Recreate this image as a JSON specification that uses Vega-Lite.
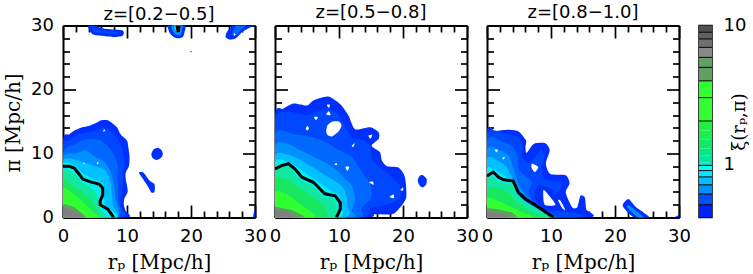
{"$schema":"https://vega.github.io/schema/vega-lite/v6.json","padding":{"left":3,"top":3.5,"right":0,"bottom":0},"background":"white","autosize":{"type":"pad"},"bounds":"flush","spacing":20,"resolve":{"scale":{"fill":"independent"}},
"config":{"view":{"stroke":null},"title":{"font":"DejaVu Sans","fontSize":18,"fontWeight":"normal","color":"#000"},"axis":{"domainColor":"#000","domainWidth":2,"tickColor":"#000","tickWidth":1.7,"grid":false,"labelFont":"DejaVu Sans","labelFontSize":18,"labelColor":"#000","labelOverlap":false,"labelBound":false,"labelFlush":false,"titleFont":"DejaVu Serif","titleFontSize":20,"titleFontWeight":"normal","titleColor":"#000","zindex":1}},
"datasets":{"shapes":[
{"panel":1,"band":"b1","poly":"a","rp":0,"pi":12},{"panel":1,"band":"b1","poly":"a","rp":1,"pi":13},{"panel":1,"band":"b1","poly":"a","rp":2,"pi":13.7},{"panel":1,"band":"b1","poly":"a","rp":3,"pi":14.1},{"panel":1,"band":"b1","poly":"a","rp":4,"pi":14.3},{"panel":1,"band":"b1","poly":"a","rp":5,"pi":14.7},{"panel":1,"band":"b1","poly":"a","rp":6,"pi":15.2},{"panel":1,"band":"b1","poly":"a","rp":7,"pi":15.2},{"panel":1,"band":"b1","poly":"a","rp":8,"pi":14.5},{"panel":1,"band":"b1","poly":"a","rp":8.5,"pi":14},{"panel":1,"band":"b1","poly":"a","rp":9,"pi":13},{"panel":1,"band":"b1","poly":"a","rp":10,"pi":12},{"panel":1,"band":"b1","poly":"a","rp":10.2,"pi":11},{"panel":1,"band":"b1","poly":"a","rp":10.4,"pi":9.5},{"panel":1,"band":"b1","poly":"a","rp":10.3,"pi":8},{"panel":1,"band":"b1","poly":"a","rp":9.8,"pi":7},{"panel":1,"band":"b1","poly":"a","rp":9.8,"pi":6},{"panel":1,"band":"b1","poly":"a","rp":10,"pi":5},{"panel":1,"band":"b1","poly":"a","rp":10.1,"pi":4},{"panel":1,"band":"b1","poly":"a","rp":9.6,"pi":3},{"panel":1,"band":"b1","poly":"a","rp":9.5,"pi":2},{"panel":1,"band":"b1","poly":"a","rp":9.8,"pi":1},{"panel":1,"band":"b1","poly":"a","rp":10,"pi":0},{"panel":1,"band":"b1","poly":"a","rp":0,"pi":0},
{"panel":1,"band":"b1","poly":"c","rp":13.8,"pi":9.9},{"panel":1,"band":"b1","poly":"c","rp":14.1,"pi":10.6},{"panel":1,"band":"b1","poly":"c","rp":14.8,"pi":10.9},{"panel":1,"band":"b1","poly":"c","rp":15.4,"pi":10.5},{"panel":1,"band":"b1","poly":"c","rp":15.6,"pi":9.9},{"panel":1,"band":"b1","poly":"c","rp":15.3,"pi":9.3},{"panel":1,"band":"b1","poly":"c","rp":14.6,"pi":9},{"panel":1,"band":"b1","poly":"c","rp":14,"pi":9.3},
{"panel":1,"band":"b1","poly":"d","rp":11.9,"pi":6.9},{"panel":1,"band":"b1","poly":"d","rp":12,"pi":7.1},{"panel":1,"band":"b1","poly":"d","rp":12.6,"pi":7},{"panel":1,"band":"b1","poly":"d","rp":13.5,"pi":5.8},{"panel":1,"band":"b1","poly":"d","rp":14.3,"pi":5.2},{"panel":1,"band":"b1","poly":"d","rp":14.3,"pi":4},{"panel":1,"band":"b1","poly":"d","rp":13.8,"pi":3.9},{"panel":1,"band":"b1","poly":"d","rp":13.3,"pi":4.8},{"panel":1,"band":"b1","poly":"d","rp":12.5,"pi":6},
{"panel":1,"band":"b1","poly":"e","rp":4,"pi":30.5},{"panel":1,"band":"b1","poly":"e","rp":4,"pi":29.5},{"panel":1,"band":"b1","poly":"e","rp":4.7,"pi":28.6},{"panel":1,"band":"b1","poly":"e","rp":6,"pi":28.4},{"panel":1,"band":"b1","poly":"e","rp":8,"pi":28.2},{"panel":1,"band":"b1","poly":"e","rp":9.3,"pi":28.4},{"panel":1,"band":"b1","poly":"e","rp":9.5,"pi":29},{"panel":1,"band":"b1","poly":"e","rp":9,"pi":29.3},{"panel":1,"band":"b1","poly":"e","rp":6.5,"pi":29.5},{"panel":1,"band":"b1","poly":"e","rp":5,"pi":30},{"panel":1,"band":"b1","poly":"e","rp":5,"pi":30.5},
{"panel":1,"band":"b1","poly":"f","rp":16.4,"pi":30.5},{"panel":1,"band":"b1","poly":"f","rp":16.6,"pi":29},{"panel":1,"band":"b1","poly":"f","rp":17.3,"pi":28.2},{"panel":1,"band":"b1","poly":"f","rp":18,"pi":28},{"panel":1,"band":"b1","poly":"f","rp":18.7,"pi":28.2},{"panel":1,"band":"b1","poly":"f","rp":19,"pi":29},{"panel":1,"band":"b1","poly":"f","rp":19.1,"pi":30.5},
{"panel":1,"band":"b1","poly":"g","rp":25.4,"pi":28.2},{"panel":1,"band":"b1","poly":"g","rp":26,"pi":27.8},{"panel":1,"band":"b1","poly":"g","rp":27,"pi":28},{"panel":1,"band":"b1","poly":"g","rp":28,"pi":29},{"panel":1,"band":"b1","poly":"g","rp":29.5,"pi":29.8},{"panel":1,"band":"b1","poly":"g","rp":31,"pi":30.2},{"panel":1,"band":"b1","poly":"g","rp":31,"pi":31},{"panel":1,"band":"b1","poly":"g","rp":27,"pi":31},{"panel":1,"band":"b1","poly":"g","rp":26.3,"pi":29.8},{"panel":1,"band":"b1","poly":"g","rp":25.6,"pi":29},
{"panel":1,"band":"b1","poly":"h","rp":19.9,"pi":25.8},{"panel":1,"band":"b1","poly":"h","rp":20,"pi":26.05},{"panel":1,"band":"b1","poly":"h","rp":20.15,"pi":25.85},
{"panel":1,"band":"b1","poly":"i","rp":29.7,"pi":0},{"panel":1,"band":"b1","poly":"i","rp":30,"pi":1.3},{"panel":1,"band":"b1","poly":"i","rp":30.5,"pi":1.3},{"panel":1,"band":"b1","poly":"i","rp":30.5,"pi":0},
{"panel":1,"band":"b2","poly":"a","rp":0,"pi":11},{"panel":1,"band":"b2","poly":"a","rp":1,"pi":12},{"panel":1,"band":"b2","poly":"a","rp":2.5,"pi":13},{"panel":1,"band":"b2","poly":"a","rp":5,"pi":13.5},{"panel":1,"band":"b2","poly":"a","rp":6.5,"pi":14},{"panel":1,"band":"b2","poly":"a","rp":8,"pi":13},{"panel":1,"band":"b2","poly":"a","rp":9,"pi":11.5},{"panel":1,"band":"b2","poly":"a","rp":9.6,"pi":9},{"panel":1,"band":"b2","poly":"a","rp":9.4,"pi":6.5},{"panel":1,"band":"b2","poly":"a","rp":9.2,"pi":4},{"panel":1,"band":"b2","poly":"a","rp":9,"pi":2},{"panel":1,"band":"b2","poly":"a","rp":9.3,"pi":0},{"panel":1,"band":"b2","poly":"a","rp":0,"pi":0},
{"panel":1,"band":"b2","poly":"e","rp":4.5,"pi":30},{"panel":1,"band":"b2","poly":"e","rp":4.8,"pi":29},{"panel":1,"band":"b2","poly":"e","rp":6,"pi":28.8},{"panel":1,"band":"b2","poly":"e","rp":8,"pi":28.7},{"panel":1,"band":"b2","poly":"e","rp":8.5,"pi":29},{"panel":1,"band":"b2","poly":"e","rp":6,"pi":29.2},{"panel":1,"band":"b2","poly":"e","rp":5,"pi":29.7},
{"panel":1,"band":"b3","poly":"a","rp":0,"pi":10},{"panel":1,"band":"b3","poly":"a","rp":2,"pi":11.5},{"panel":1,"band":"b3","poly":"a","rp":4,"pi":12.3},{"panel":1,"band":"b3","poly":"a","rp":6,"pi":12},{"panel":1,"band":"b3","poly":"a","rp":7.5,"pi":10.5},{"panel":1,"band":"b3","poly":"a","rp":8.5,"pi":8.5},{"panel":1,"band":"b3","poly":"a","rp":8.6,"pi":6},{"panel":1,"band":"b3","poly":"a","rp":8.6,"pi":3},{"panel":1,"band":"b3","poly":"a","rp":8.6,"pi":0},{"panel":1,"band":"b3","poly":"a","rp":0,"pi":0},
{"panel":1,"band":"b3","poly":"g","rp":26.5,"pi":28.5},{"panel":1,"band":"b3","poly":"g","rp":27.2,"pi":28.6},{"panel":1,"band":"b3","poly":"g","rp":27.8,"pi":29.3},{"panel":1,"band":"b3","poly":"g","rp":29,"pi":30.5},{"panel":1,"band":"b3","poly":"g","rp":27.5,"pi":30.5},{"panel":1,"band":"b3","poly":"g","rp":26.7,"pi":29.5},
{"panel":1,"band":"b4","poly":"a","rp":0,"pi":9.3},{"panel":1,"band":"b4","poly":"a","rp":2,"pi":10},{"panel":1,"band":"b4","poly":"a","rp":3.5,"pi":10.5},{"panel":1,"band":"b4","poly":"a","rp":5,"pi":9.5},{"panel":1,"band":"b4","poly":"a","rp":6.5,"pi":8.7},{"panel":1,"band":"b4","poly":"a","rp":7.5,"pi":7},{"panel":1,"band":"b4","poly":"a","rp":8,"pi":5},{"panel":1,"band":"b4","poly":"a","rp":8.2,"pi":3},{"panel":1,"band":"b4","poly":"a","rp":8.4,"pi":0},{"panel":1,"band":"b4","poly":"a","rp":0,"pi":0},
{"panel":1,"band":"b4","poly":"f","rp":16.9,"pi":30.5},{"panel":1,"band":"b4","poly":"f","rp":17.2,"pi":29},{"panel":1,"band":"b4","poly":"f","rp":17.8,"pi":28.5},{"panel":1,"band":"b4","poly":"f","rp":18.4,"pi":28.6},{"panel":1,"band":"b4","poly":"f","rp":18.7,"pi":30.5},
{"panel":1,"band":"b5","poly":"a","rp":0,"pi":8.7},{"panel":1,"band":"b5","poly":"a","rp":2,"pi":9},{"panel":1,"band":"b5","poly":"a","rp":3,"pi":8.7},{"panel":1,"band":"b5","poly":"a","rp":5,"pi":8},{"panel":1,"band":"b5","poly":"a","rp":6.5,"pi":7.5},{"panel":1,"band":"b5","poly":"a","rp":7.3,"pi":6},{"panel":1,"band":"b5","poly":"a","rp":7.6,"pi":4},{"panel":1,"band":"b5","poly":"a","rp":7.8,"pi":2},{"panel":1,"band":"b5","poly":"a","rp":8.2,"pi":0},{"panel":1,"band":"b5","poly":"a","rp":0,"pi":0},
{"panel":1,"band":"b6","poly":"a","rp":0,"pi":8.2},{"panel":1,"band":"b6","poly":"a","rp":2,"pi":8},{"panel":1,"band":"b6","poly":"a","rp":3,"pi":7},{"panel":1,"band":"b6","poly":"a","rp":5,"pi":5.9},{"panel":1,"band":"b6","poly":"a","rp":6.3,"pi":5.3},{"panel":1,"band":"b6","poly":"a","rp":6.4,"pi":3.5},{"panel":1,"band":"b6","poly":"a","rp":6.6,"pi":2},{"panel":1,"band":"b6","poly":"a","rp":8,"pi":0.8},{"panel":1,"band":"b6","poly":"a","rp":8.2,"pi":0},{"panel":1,"band":"b6","poly":"a","rp":0,"pi":0},
{"panel":1,"band":"b6","poly":"f","rp":17.3,"pi":30.5},{"panel":1,"band":"b6","poly":"f","rp":17.6,"pi":29.2},{"panel":1,"band":"b6","poly":"f","rp":18.2,"pi":29},{"panel":1,"band":"b6","poly":"f","rp":18.4,"pi":30.5},
{"panel":1,"band":"b7","poly":"a","rp":0,"pi":7.2},{"panel":1,"band":"b7","poly":"a","rp":1.5,"pi":7},{"panel":1,"band":"b7","poly":"a","rp":3,"pi":5.5},{"panel":1,"band":"b7","poly":"a","rp":4.5,"pi":4.6},{"panel":1,"band":"b7","poly":"a","rp":5.3,"pi":3.5},{"panel":1,"band":"b7","poly":"a","rp":5.8,"pi":1.5},{"panel":1,"band":"b7","poly":"a","rp":6.5,"pi":0},{"panel":1,"band":"b7","poly":"a","rp":0,"pi":0},
{"panel":1,"band":"b8","poly":"a","rp":0,"pi":6},{"panel":1,"band":"b8","poly":"a","rp":1.5,"pi":5},{"panel":1,"band":"b8","poly":"a","rp":3,"pi":4},{"panel":1,"band":"b8","poly":"a","rp":4.5,"pi":2.5},{"panel":1,"band":"b8","poly":"a","rp":5.5,"pi":0},{"panel":1,"band":"b8","poly":"a","rp":0,"pi":0},
{"panel":1,"band":"b9","poly":"a","rp":0,"pi":4.5},{"panel":1,"band":"b9","poly":"a","rp":1.5,"pi":3.8},{"panel":1,"band":"b9","poly":"a","rp":3,"pi":2.5},{"panel":1,"band":"b9","poly":"a","rp":4.5,"pi":1},{"panel":1,"band":"b9","poly":"a","rp":5.5,"pi":0},{"panel":1,"band":"b9","poly":"a","rp":0,"pi":0},
{"panel":1,"band":"b10","poly":"a","rp":0,"pi":2},{"panel":1,"band":"b10","poly":"a","rp":1.5,"pi":1.7},{"panel":1,"band":"b10","poly":"a","rp":2.5,"pi":1},{"panel":1,"band":"b10","poly":"a","rp":3.5,"pi":0},{"panel":1,"band":"b10","poly":"a","rp":0,"pi":0},
{"panel":1,"band":"b11","poly":"a","rp":0,"pi":1.5},{"panel":1,"band":"b11","poly":"a","rp":1.5,"pi":1.1},{"panel":1,"band":"b11","poly":"a","rp":2.5,"pi":0.5},{"panel":1,"band":"b11","poly":"a","rp":3,"pi":0},{"panel":1,"band":"b11","poly":"a","rp":0,"pi":0},
{"panel":1,"band":"hole","poly":"t1","rp":6.3,"pi":13.4},{"panel":1,"band":"hole","poly":"t1","rp":6.6,"pi":13.6},{"panel":1,"band":"hole","poly":"t1","rp":6.4,"pi":13.8},
{"panel":1,"band":"hole","poly":"t2","rp":5.3,"pi":8.3},{"panel":1,"band":"hole","poly":"t2","rp":5.6,"pi":8.5},{"panel":1,"band":"hole","poly":"t2","rp":5.4,"pi":8.7},
{"panel":1,"band":"hole","poly":"t3","rp":3.2,"pi":8.3},{"panel":1,"band":"hole","poly":"t3","rp":3.4,"pi":8.5},{"panel":1,"band":"hole","poly":"t3","rp":3.2,"pi":8.6},
{"panel":1,"band":"hole","poly":"t4","rp":26.7,"pi":28.4},{"panel":1,"band":"hole","poly":"t4","rp":27,"pi":28.6},{"panel":1,"band":"hole","poly":"t4","rp":26.7,"pi":28.8},
{"panel":2,"band":"b1","poly":"a","rp":0,"pi":15.9},{"panel":2,"band":"b1","poly":"a","rp":1.3,"pi":17},{"panel":2,"band":"b1","poly":"a","rp":2.9,"pi":17.8},{"panel":2,"band":"b1","poly":"a","rp":5,"pi":17.5},{"panel":2,"band":"b1","poly":"a","rp":6,"pi":18.3},{"panel":2,"band":"b1","poly":"a","rp":8.3,"pi":18.9},{"panel":2,"band":"b1","poly":"a","rp":10.2,"pi":17.7},{"panel":2,"band":"b1","poly":"a","rp":11.5,"pi":15.9},{"panel":2,"band":"b1","poly":"a","rp":12.5,"pi":13.8},{"panel":2,"band":"b1","poly":"a","rp":14.9,"pi":14.1},{"panel":2,"band":"b1","poly":"a","rp":16.2,"pi":13.3},{"panel":2,"band":"b1","poly":"a","rp":16.2,"pi":12.3},{"panel":2,"band":"b1","poly":"a","rp":15.1,"pi":11.2},{"panel":2,"band":"b1","poly":"a","rp":16.4,"pi":10.2},{"panel":2,"band":"b1","poly":"a","rp":16.7,"pi":8.9},{"panel":2,"band":"b1","poly":"a","rp":17.5,"pi":8},{"panel":2,"band":"b1","poly":"a","rp":19.3,"pi":7.8},{"panel":2,"band":"b1","poly":"a","rp":20.3,"pi":6.3},{"panel":2,"band":"b1","poly":"a","rp":20.5,"pi":3.1},{"panel":2,"band":"b1","poly":"a","rp":19.3,"pi":1.3},{"panel":2,"band":"b1","poly":"a","rp":18.3,"pi":0.5},{"panel":2,"band":"b1","poly":"a","rp":15.6,"pi":0.5},{"panel":2,"band":"b1","poly":"a","rp":14.3,"pi":0},{"panel":2,"band":"b1","poly":"a","rp":0,"pi":0},
{"panel":2,"band":"b1","poly":"c","rp":22.3,"pi":5.8},{"panel":2,"band":"b1","poly":"c","rp":22.6,"pi":6.5},{"panel":2,"band":"b1","poly":"c","rp":23.1,"pi":6.6},{"panel":2,"band":"b1","poly":"c","rp":23.7,"pi":6},{"panel":2,"band":"b1","poly":"c","rp":23.6,"pi":5.1},{"panel":2,"band":"b1","poly":"c","rp":23.1,"pi":4.7},{"panel":2,"band":"b1","poly":"c","rp":22.6,"pi":5},
{"panel":2,"band":"b2","poly":"a","rp":0,"pi":15},{"panel":2,"band":"b2","poly":"a","rp":2,"pi":16.5},{"panel":2,"band":"b2","poly":"a","rp":5,"pi":16},{"panel":2,"band":"b2","poly":"a","rp":8,"pi":17},{"panel":2,"band":"b2","poly":"a","rp":10,"pi":16},{"panel":2,"band":"b2","poly":"a","rp":11,"pi":14},{"panel":2,"band":"b2","poly":"a","rp":12,"pi":12.5},{"panel":2,"band":"b2","poly":"a","rp":14,"pi":12},{"panel":2,"band":"b2","poly":"a","rp":15,"pi":11},{"panel":2,"band":"b2","poly":"a","rp":15,"pi":10},{"panel":2,"band":"b2","poly":"a","rp":15.5,"pi":8.7},{"panel":2,"band":"b2","poly":"a","rp":18,"pi":6.5},{"panel":2,"band":"b2","poly":"a","rp":19.5,"pi":5},{"panel":2,"band":"b2","poly":"a","rp":19.5,"pi":3},{"panel":2,"band":"b2","poly":"a","rp":17.5,"pi":2},{"panel":2,"band":"b2","poly":"a","rp":15,"pi":1.5},{"panel":2,"band":"b2","poly":"a","rp":13.5,"pi":0},{"panel":2,"band":"b2","poly":"a","rp":0,"pi":0},
{"panel":2,"band":"b3","poly":"a","rp":0,"pi":13},{"panel":2,"band":"b3","poly":"a","rp":3,"pi":13},{"panel":2,"band":"b3","poly":"a","rp":6,"pi":12.5},{"panel":2,"band":"b3","poly":"a","rp":8.5,"pi":11.5},{"panel":2,"band":"b3","poly":"a","rp":10,"pi":10.5},{"panel":2,"band":"b3","poly":"a","rp":12,"pi":9.5},{"panel":2,"band":"b3","poly":"a","rp":13,"pi":8},{"panel":2,"band":"b3","poly":"a","rp":14,"pi":6.5},{"panel":2,"band":"b3","poly":"a","rp":15,"pi":5},{"panel":2,"band":"b3","poly":"a","rp":15,"pi":3},{"panel":2,"band":"b3","poly":"a","rp":13.5,"pi":1.5},{"panel":2,"band":"b3","poly":"a","rp":13,"pi":0},{"panel":2,"band":"b3","poly":"a","rp":0,"pi":0},
{"panel":2,"band":"b4","poly":"a","rp":0,"pi":11},{"panel":2,"band":"b4","poly":"a","rp":2,"pi":11.5},{"panel":2,"band":"b4","poly":"a","rp":4,"pi":10.5},{"panel":2,"band":"b4","poly":"a","rp":6,"pi":9.5},{"panel":2,"band":"b4","poly":"a","rp":8,"pi":8.5},{"panel":2,"band":"b4","poly":"a","rp":9.5,"pi":7.5},{"panel":2,"band":"b4","poly":"a","rp":11,"pi":6},{"panel":2,"band":"b4","poly":"a","rp":12,"pi":5},{"panel":2,"band":"b4","poly":"a","rp":12.5,"pi":3},{"panel":2,"band":"b4","poly":"a","rp":12,"pi":1},{"panel":2,"band":"b4","poly":"a","rp":12,"pi":0},{"panel":2,"band":"b4","poly":"a","rp":0,"pi":0},
{"panel":2,"band":"b5","poly":"a","rp":0,"pi":9.5},{"panel":2,"band":"b5","poly":"a","rp":2,"pi":9.8},{"panel":2,"band":"b5","poly":"a","rp":4,"pi":9},{"panel":2,"band":"b5","poly":"a","rp":6,"pi":7.8},{"panel":2,"band":"b5","poly":"a","rp":8,"pi":6.5},{"panel":2,"band":"b5","poly":"a","rp":10,"pi":5.3},{"panel":2,"band":"b5","poly":"a","rp":11,"pi":4},{"panel":2,"band":"b5","poly":"a","rp":11.3,"pi":2},{"panel":2,"band":"b5","poly":"a","rp":11,"pi":0},{"panel":2,"band":"b5","poly":"a","rp":0,"pi":0},
{"panel":2,"band":"b6","poly":"a","rp":0,"pi":8.6},{"panel":2,"band":"b6","poly":"a","rp":2,"pi":8.7},{"panel":2,"band":"b6","poly":"a","rp":4,"pi":7.5},{"panel":2,"band":"b6","poly":"a","rp":6,"pi":6},{"panel":2,"band":"b6","poly":"a","rp":7.5,"pi":5},{"panel":2,"band":"b6","poly":"a","rp":9,"pi":4},{"panel":2,"band":"b6","poly":"a","rp":10,"pi":3.5},{"panel":2,"band":"b6","poly":"a","rp":10.3,"pi":2},{"panel":2,"band":"b6","poly":"a","rp":10,"pi":0},{"panel":2,"band":"b6","poly":"a","rp":0,"pi":0},
{"panel":2,"band":"b7","poly":"a","rp":0,"pi":7.2},{"panel":2,"band":"b7","poly":"a","rp":2,"pi":7.9},{"panel":2,"band":"b7","poly":"a","rp":3,"pi":7},{"panel":2,"band":"b7","poly":"a","rp":4,"pi":5.8},{"panel":2,"band":"b7","poly":"a","rp":6,"pi":4.9},{"panel":2,"band":"b7","poly":"a","rp":7.5,"pi":3.3},{"panel":2,"band":"b7","poly":"a","rp":9,"pi":3},{"panel":2,"band":"b7","poly":"a","rp":9.6,"pi":2},{"panel":2,"band":"b7","poly":"a","rp":9.6,"pi":1},{"panel":2,"band":"b7","poly":"a","rp":9.2,"pi":0},{"panel":2,"band":"b7","poly":"a","rp":0,"pi":0},
{"panel":2,"band":"b8","poly":"a","rp":0,"pi":6},{"panel":2,"band":"b8","poly":"a","rp":2,"pi":5.8},{"panel":2,"band":"b8","poly":"a","rp":4,"pi":4.5},{"panel":2,"band":"b8","poly":"a","rp":6,"pi":3},{"panel":2,"band":"b8","poly":"a","rp":7.5,"pi":2},{"panel":2,"band":"b8","poly":"a","rp":8,"pi":0},{"panel":2,"band":"b8","poly":"a","rp":0,"pi":0},
{"panel":2,"band":"b9","poly":"a","rp":0,"pi":4},{"panel":2,"band":"b9","poly":"a","rp":2,"pi":3.5},{"panel":2,"band":"b9","poly":"a","rp":4,"pi":2},{"panel":2,"band":"b9","poly":"a","rp":5.5,"pi":1},{"panel":2,"band":"b9","poly":"a","rp":6,"pi":0},{"panel":2,"band":"b9","poly":"a","rp":0,"pi":0},
{"panel":2,"band":"b10","poly":"a","rp":0,"pi":1.6},{"panel":2,"band":"b10","poly":"a","rp":1.5,"pi":1.4},{"panel":2,"band":"b10","poly":"a","rp":3,"pi":1},{"panel":2,"band":"b10","poly":"a","rp":4.5,"pi":0},{"panel":2,"band":"b10","poly":"a","rp":0,"pi":0},
{"panel":2,"band":"b11","poly":"a","rp":0,"pi":1.1},{"panel":2,"band":"b11","poly":"a","rp":1.5,"pi":1},{"panel":2,"band":"b11","poly":"a","rp":2.5,"pi":0.6},{"panel":2,"band":"b11","poly":"a","rp":3,"pi":0},{"panel":2,"band":"b11","poly":"a","rp":0,"pi":0},
{"panel":2,"band":"hole","poly":"h","rp":8,"pi":13.4},{"panel":2,"band":"hole","poly":"h","rp":8.2,"pi":14.4},{"panel":2,"band":"hole","poly":"h","rp":9,"pi":15},{"panel":2,"band":"hole","poly":"h","rp":10,"pi":15},{"panel":2,"band":"hole","poly":"h","rp":10.4,"pi":14.4},{"panel":2,"band":"hole","poly":"h","rp":10,"pi":13.5},{"panel":2,"band":"hole","poly":"h","rp":9,"pi":12.7},{"panel":2,"band":"hole","poly":"h","rp":8.3,"pi":12.8},
{"panel":2,"band":"hole","poly":"t1","rp":4.8,"pi":13.9},{"panel":2,"band":"hole","poly":"t1","rp":5.1,"pi":14.3},{"panel":2,"band":"hole","poly":"t1","rp":5.3,"pi":13.9},{"panel":2,"band":"hole","poly":"t1","rp":5,"pi":13.6},
{"panel":2,"band":"hole","poly":"t2","rp":6.1,"pi":15.7},{"panel":2,"band":"hole","poly":"t2","rp":6.7,"pi":15.7},{"panel":2,"band":"hole","poly":"t2","rp":6.4,"pi":15.2},
{"panel":2,"band":"hole","poly":"t3","rp":8,"pi":16.1},{"panel":2,"band":"hole","poly":"t3","rp":8.7,"pi":16},{"panel":2,"band":"hole","poly":"t3","rp":8.4,"pi":16.6},
{"panel":2,"band":"hole","poly":"t4","rp":8.1,"pi":17.6},{"panel":2,"band":"hole","poly":"t4","rp":8.6,"pi":17.6},{"panel":2,"band":"hole","poly":"t4","rp":8.4,"pi":17.1},
{"panel":2,"band":"hole","poly":"t5","rp":14.6,"pi":12.8},{"panel":2,"band":"hole","poly":"t5","rp":15.2,"pi":12.9},{"panel":2,"band":"hole","poly":"t5","rp":14.9,"pi":12.3},
{"panel":2,"band":"hole","poly":"t6","rp":12,"pi":11.2},{"panel":2,"band":"hole","poly":"t6","rp":12.5,"pi":11.6},{"panel":2,"band":"hole","poly":"t6","rp":12.2,"pi":11},
{"panel":2,"band":"hole","poly":"t7","rp":9.3,"pi":8.3},{"panel":2,"band":"hole","poly":"t7","rp":9.6,"pi":8.5},{"panel":2,"band":"hole","poly":"t7","rp":9.7,"pi":8.2},
{"panel":2,"band":"hole","poly":"t8","rp":11,"pi":7.9},{"panel":2,"band":"hole","poly":"t8","rp":11.6,"pi":7.9},{"panel":2,"band":"hole","poly":"t8","rp":11.3,"pi":7.3},
{"panel":2,"band":"hole","poly":"t9","rp":14.7,"pi":5.5},{"panel":2,"band":"hole","poly":"t9","rp":15.3,"pi":5.6},{"panel":2,"band":"hole","poly":"t9","rp":15.4,"pi":5.1},
{"panel":2,"band":"hole","poly":"t10","rp":17.9,"pi":3.2},{"panel":2,"band":"hole","poly":"t10","rp":18.5,"pi":3.6},{"panel":2,"band":"hole","poly":"t10","rp":18.6,"pi":3},
{"panel":2,"band":"hole","poly":"t11","rp":19.6,"pi":4.3},{"panel":2,"band":"hole","poly":"t11","rp":20,"pi":4.7},{"panel":2,"band":"hole","poly":"t11","rp":20,"pi":4.2},
{"panel":3,"band":"b1","poly":"a","rp":0,"pi":13.5},{"panel":3,"band":"b1","poly":"a","rp":1.3,"pi":13.5},{"panel":3,"band":"b1","poly":"a","rp":3.4,"pi":13.7},{"panel":3,"band":"b1","poly":"a","rp":5,"pi":13.4},{"panel":3,"band":"b1","poly":"a","rp":6.1,"pi":12},{"panel":3,"band":"b1","poly":"a","rp":6,"pi":11},{"panel":3,"band":"b1","poly":"a","rp":6.2,"pi":10.1},{"panel":3,"band":"b1","poly":"a","rp":7.3,"pi":11.5},{"panel":3,"band":"b1","poly":"a","rp":9.1,"pi":11.6},{"panel":3,"band":"b1","poly":"a","rp":9.8,"pi":10.5},{"panel":3,"band":"b1","poly":"a","rp":9.2,"pi":8.4},{"panel":3,"band":"b1","poly":"a","rp":9.9,"pi":6.8},{"panel":3,"band":"b1","poly":"a","rp":12.3,"pi":6.6},{"panel":3,"band":"b1","poly":"a","rp":12.9,"pi":5.3},{"panel":3,"band":"b1","poly":"a","rp":12.3,"pi":3.9},{"panel":3,"band":"b1","poly":"a","rp":13.3,"pi":1.6},{"panel":3,"band":"b1","poly":"a","rp":14.1,"pi":1.6},{"panel":3,"band":"b1","poly":"a","rp":14.6,"pi":3.4},{"panel":3,"band":"b1","poly":"a","rp":15.3,"pi":3.1},{"panel":3,"band":"b1","poly":"a","rp":15.5,"pi":1.3},{"panel":3,"band":"b1","poly":"a","rp":16,"pi":0},{"panel":3,"band":"b1","poly":"a","rp":0,"pi":0},
{"panel":3,"band":"b1","poly":"c","rp":21.2,"pi":1.8},{"panel":3,"band":"b1","poly":"c","rp":22.1,"pi":2.9},{"panel":3,"band":"b1","poly":"c","rp":23.3,"pi":1.6},{"panel":3,"band":"b1","poly":"c","rp":25.4,"pi":0},{"panel":3,"band":"b1","poly":"c","rp":23,"pi":0},
{"panel":3,"band":"b1","poly":"d","rp":29.3,"pi":0},{"panel":3,"band":"b1","poly":"d","rp":30,"pi":0.4},{"panel":3,"band":"b1","poly":"d","rp":30.5,"pi":0.4},{"panel":3,"band":"b1","poly":"d","rp":30.5,"pi":0},
{"panel":3,"band":"b2","poly":"a","rp":0,"pi":13},{"panel":3,"band":"b2","poly":"a","rp":3,"pi":13},{"panel":3,"band":"b2","poly":"a","rp":4.8,"pi":12.5},{"panel":3,"band":"b2","poly":"a","rp":5.5,"pi":11},{"panel":3,"band":"b2","poly":"a","rp":5.5,"pi":9.5},{"panel":3,"band":"b2","poly":"a","rp":6.5,"pi":8.5},{"panel":3,"band":"b2","poly":"a","rp":7.5,"pi":9.5},{"panel":3,"band":"b2","poly":"a","rp":8.5,"pi":10.5},{"panel":3,"band":"b2","poly":"a","rp":9,"pi":9.5},{"panel":3,"band":"b2","poly":"a","rp":8.5,"pi":8},{"panel":3,"band":"b2","poly":"a","rp":9,"pi":6},{"panel":3,"band":"b2","poly":"a","rp":11.5,"pi":5.5},{"panel":3,"band":"b2","poly":"a","rp":11.5,"pi":4.5},{"panel":3,"band":"b2","poly":"a","rp":10.5,"pi":3.5},{"panel":3,"band":"b2","poly":"a","rp":10,"pi":4.5},{"panel":3,"band":"b2","poly":"a","rp":8,"pi":5},{"panel":3,"band":"b2","poly":"a","rp":7.5,"pi":3},{"panel":3,"band":"b2","poly":"a","rp":9,"pi":1.3},{"panel":3,"band":"b2","poly":"a","rp":11,"pi":1},{"panel":3,"band":"b2","poly":"a","rp":14,"pi":0.7},{"panel":3,"band":"b2","poly":"a","rp":14.3,"pi":0},{"panel":3,"band":"b2","poly":"a","rp":0,"pi":0},
{"panel":3,"band":"b4","poly":"c","rp":21.9,"pi":1.6},{"panel":3,"band":"b4","poly":"c","rp":22.3,"pi":1.8},{"panel":3,"band":"b4","poly":"c","rp":24.5,"pi":0},{"panel":3,"band":"b4","poly":"c","rp":23.6,"pi":0},
{"panel":3,"band":"b3","poly":"a","rp":0,"pi":12},{"panel":3,"band":"b3","poly":"a","rp":2.5,"pi":11.8},{"panel":3,"band":"b3","poly":"a","rp":4,"pi":11},{"panel":3,"band":"b3","poly":"a","rp":4.8,"pi":9.5},{"panel":3,"band":"b3","poly":"a","rp":5,"pi":7.5},{"panel":3,"band":"b3","poly":"a","rp":6,"pi":6.5},{"panel":3,"band":"b3","poly":"a","rp":7,"pi":5.5},{"panel":3,"band":"b3","poly":"a","rp":6.5,"pi":4},{"panel":3,"band":"b3","poly":"a","rp":7.5,"pi":2},{"panel":3,"band":"b3","poly":"a","rp":9,"pi":1},{"panel":3,"band":"b3","poly":"a","rp":9.7,"pi":0},{"panel":3,"band":"b3","poly":"a","rp":0,"pi":0},
{"panel":3,"band":"b4","poly":"a","rp":0,"pi":10.5},{"panel":3,"band":"b4","poly":"a","rp":2,"pi":10.5},{"panel":3,"band":"b4","poly":"a","rp":3.5,"pi":9.5},{"panel":3,"band":"b4","poly":"a","rp":4,"pi":8},{"panel":3,"band":"b4","poly":"a","rp":4.5,"pi":6.5},{"panel":3,"band":"b4","poly":"a","rp":5,"pi":5},{"panel":3,"band":"b4","poly":"a","rp":6,"pi":3.5},{"panel":3,"band":"b4","poly":"a","rp":7,"pi":2.2},{"panel":3,"band":"b4","poly":"a","rp":8.5,"pi":1},{"panel":3,"band":"b4","poly":"a","rp":10,"pi":0},{"panel":3,"band":"b4","poly":"a","rp":0,"pi":0},
{"panel":3,"band":"b5","poly":"a","rp":0,"pi":9},{"panel":3,"band":"b5","poly":"a","rp":1.5,"pi":9},{"panel":3,"band":"b5","poly":"a","rp":3,"pi":8},{"panel":3,"band":"b5","poly":"a","rp":3.5,"pi":7},{"panel":3,"band":"b5","poly":"a","rp":4,"pi":6},{"panel":3,"band":"b5","poly":"a","rp":4.5,"pi":4.5},{"panel":3,"band":"b5","poly":"a","rp":5.5,"pi":3},{"panel":3,"band":"b5","poly":"a","rp":7,"pi":1.8},{"panel":3,"band":"b5","poly":"a","rp":9,"pi":0.8},{"panel":3,"band":"b5","poly":"a","rp":10,"pi":0},{"panel":3,"band":"b5","poly":"a","rp":0,"pi":0},
{"panel":3,"band":"b6","poly":"a","rp":0,"pi":7.5},{"panel":3,"band":"b6","poly":"a","rp":1,"pi":7.5},{"panel":3,"band":"b6","poly":"a","rp":2,"pi":7},{"panel":3,"band":"b6","poly":"a","rp":3.5,"pi":6},{"panel":3,"band":"b6","poly":"a","rp":4.2,"pi":4.8},{"panel":3,"band":"b6","poly":"a","rp":5,"pi":3.3},{"panel":3,"band":"b6","poly":"a","rp":6,"pi":2.4},{"panel":3,"band":"b6","poly":"a","rp":8,"pi":1.3},{"panel":3,"band":"b6","poly":"a","rp":10,"pi":0.3},{"panel":3,"band":"b6","poly":"a","rp":10.3,"pi":0},{"panel":3,"band":"b6","poly":"a","rp":0,"pi":0},
{"panel":3,"band":"b7","poly":"a","rp":0,"pi":6},{"panel":3,"band":"b7","poly":"a","rp":1,"pi":6.3},{"panel":3,"band":"b7","poly":"a","rp":2,"pi":5.5},{"panel":3,"band":"b7","poly":"a","rp":4,"pi":5.2},{"panel":3,"band":"b7","poly":"a","rp":4.6,"pi":3.7},{"panel":3,"band":"b7","poly":"a","rp":5.7,"pi":2.6},{"panel":3,"band":"b7","poly":"a","rp":7,"pi":1.8},{"panel":3,"band":"b7","poly":"a","rp":8.7,"pi":0.8},{"panel":3,"band":"b7","poly":"a","rp":10,"pi":0},{"panel":3,"band":"b7","poly":"a","rp":0,"pi":0},
{"panel":3,"band":"b8","poly":"a","rp":0,"pi":4.5},{"panel":3,"band":"b8","poly":"a","rp":2,"pi":4.5},{"panel":3,"band":"b8","poly":"a","rp":3.5,"pi":3.8},{"panel":3,"band":"b8","poly":"a","rp":4.5,"pi":2.5},{"panel":3,"band":"b8","poly":"a","rp":6,"pi":1.5},{"panel":3,"band":"b8","poly":"a","rp":8,"pi":0.5},{"panel":3,"band":"b8","poly":"a","rp":9,"pi":0},{"panel":3,"band":"b8","poly":"a","rp":0,"pi":0},
{"panel":3,"band":"b9","poly":"a","rp":0,"pi":3},{"panel":3,"band":"b9","poly":"a","rp":2,"pi":2.5},{"panel":3,"band":"b9","poly":"a","rp":4,"pi":1.5},{"panel":3,"band":"b9","poly":"a","rp":6,"pi":0.6},{"panel":3,"band":"b9","poly":"a","rp":7,"pi":0},{"panel":3,"band":"b9","poly":"a","rp":0,"pi":0},
{"panel":3,"band":"b10","poly":"a","rp":0,"pi":1.4},{"panel":3,"band":"b10","poly":"a","rp":2,"pi":1.2},{"panel":3,"band":"b10","poly":"a","rp":4,"pi":0.7},{"panel":3,"band":"b10","poly":"a","rp":4.5,"pi":0},{"panel":3,"band":"b10","poly":"a","rp":0,"pi":0},
{"panel":3,"band":"b11","poly":"a","rp":0,"pi":0.9},{"panel":3,"band":"b11","poly":"a","rp":1.5,"pi":0.7},{"panel":3,"band":"b11","poly":"a","rp":3,"pi":0.4},{"panel":3,"band":"b11","poly":"a","rp":3.5,"pi":0},{"panel":3,"band":"b11","poly":"a","rp":0,"pi":0},
{"panel":3,"band":"hole","poly":"h1","rp":8.8,"pi":4.2},{"panel":3,"band":"hole","poly":"h1","rp":9.3,"pi":3.9},{"panel":3,"band":"hole","poly":"h1","rp":10.7,"pi":2},{"panel":3,"band":"hole","poly":"h1","rp":9,"pi":2},
{"panel":3,"band":"hole","poly":"h2","rp":7,"pi":8.4},{"panel":3,"band":"hole","poly":"h2","rp":8,"pi":7.9},{"panel":3,"band":"hole","poly":"h2","rp":7.5,"pi":7.1},{"panel":3,"band":"hole","poly":"h2","rp":7,"pi":7.7},
{"panel":3,"band":"hole","poly":"h3","rp":11.1,"pi":2.7},{"panel":3,"band":"hole","poly":"h3","rp":11.5,"pi":2.6},{"panel":3,"band":"hole","poly":"h3","rp":12.2,"pi":1.2},{"panel":3,"band":"hole","poly":"h3","rp":11.8,"pi":1.4},
{"panel":3,"band":"hole","poly":"t1","rp":1.2,"pi":10.6},{"panel":3,"band":"hole","poly":"t1","rp":1.7,"pi":10.6},{"panel":3,"band":"hole","poly":"t1","rp":1.5,"pi":10.2},
{"panel":3,"band":"hole","poly":"t2","rp":2.4,"pi":9.3},{"panel":3,"band":"hole","poly":"t2","rp":2.8,"pi":9.5},{"panel":3,"band":"hole","poly":"t2","rp":2.6,"pi":9.1}
],
"contours":[
{"panel":1,"seg":"a","rp":0,"pi":8},{"panel":1,"seg":"a","rp":1,"pi":8},{"panel":1,"seg":"a","rp":1.8,"pi":7.7},{"panel":1,"seg":"a","rp":2.5,"pi":6.8},{"panel":1,"seg":"a","rp":3.1,"pi":6},{"panel":1,"seg":"a","rp":4.2,"pi":5.6},{"panel":1,"seg":"a","rp":5.7,"pi":5.2},{"panel":1,"seg":"a","rp":6.2,"pi":4.6},{"panel":1,"seg":"a","rp":6.2,"pi":3.5},{"panel":1,"seg":"a","rp":5.8,"pi":2.6},{"panel":1,"seg":"a","rp":5.8,"pi":2},{"panel":1,"seg":"a","rp":7,"pi":1.3},{"panel":1,"seg":"a","rp":7.5,"pi":0.6},{"panel":1,"seg":"a","rp":7.9,"pi":0},
{"panel":1,"seg":"b","rp":17.8,"pi":30},{"panel":1,"seg":"b","rp":18,"pi":29},{"panel":1,"seg":"b","rp":18.2,"pi":30},
{"panel":2,"seg":"a","rp":0,"pi":7.6},{"panel":2,"seg":"a","rp":1,"pi":8.1},{"panel":2,"seg":"a","rp":2.1,"pi":8.4},{"panel":2,"seg":"a","rp":3.1,"pi":7.6},{"panel":2,"seg":"a","rp":4.2,"pi":6.3},{"panel":2,"seg":"a","rp":6,"pi":5.5},{"panel":2,"seg":"a","rp":7,"pi":4.5},{"panel":2,"seg":"a","rp":7.8,"pi":3.7},{"panel":2,"seg":"a","rp":9.4,"pi":3.4},{"panel":2,"seg":"a","rp":10.2,"pi":2.3},{"panel":2,"seg":"a","rp":10.2,"pi":1.3},{"panel":2,"seg":"a","rp":9.6,"pi":0},
{"panel":3,"seg":"a","rp":0,"pi":6.5},{"panel":3,"seg":"a","rp":1,"pi":7.1},{"panel":3,"seg":"a","rp":1.8,"pi":6.3},{"panel":3,"seg":"a","rp":2.6,"pi":5.9},{"panel":3,"seg":"a","rp":4.1,"pi":5.7},{"panel":3,"seg":"a","rp":4.9,"pi":3.9},{"panel":3,"seg":"a","rp":6,"pi":2.9},{"panel":3,"seg":"a","rp":7.3,"pi":2.1},{"panel":3,"seg":"a","rp":8.9,"pi":1},{"panel":3,"seg":"a","rp":10.4,"pi":0}
],
"bar":[
{"band":"c1","low":8.94,"high":10},{"band":"c2","low":8,"high":8.94},{"band":"c3","low":6.96,"high":8},{"band":"c4","low":5.89,"high":6.96},{"band":"c5","low":4.99,"high":5.89},{"band":"c5","low":3.99,"high":4.99},{"band":"b9","low":3.02,"high":3.99},{"band":"b9","low":2.05,"high":3.02},{"band":"g1","low":1.75,"high":2.05},{"band":"g2","low":1.5,"high":1.75},{"band":"g3","low":1.3,"high":1.5},{"band":"g4","low":1.15,"high":1.3},{"band":"g5","low":1.03,"high":1.15},{"band":"g6","low":0.98,"high":1.03},{"band":"b6","low":0.9,"high":0.98},{"band":"b5","low":0.81,"high":0.9},{"band":"b4","low":0.71,"high":0.81},{"band":"b3","low":0.61,"high":0.71},{"band":"b2","low":0.51,"high":0.61},{"band":"b1","low":0.413,"high":0.51}
],
"edges":[{"v":8.94},{"v":8},{"v":6.96},{"v":5.89},{"v":4.99},{"v":3.99},{"v":3.02},{"v":2.05},{"v":0.98},{"v":0.9},{"v":0.81},{"v":0.71},{"v":0.61},{"v":0.51}]
},
"hconcat":[
{"title":{"text":"z=[0.2−0.5]","offset":-7},"width":192,"height":192,"resolve":{"axis":{"x":"independent","y":"independent"}},"layer":[
{"data":{"name":"shapes"},"transform":[{"filter":"datum.panel==1"}],"mark":{"type":"line","interpolate":"cardinal-closed","tension":0.3,"strokeWidth":0,"clip":true},"encoding":{"x":{"field":"rp","type":"quantitative","scale":{"domain":[0,30],"nice":false,"zero":false},"axis":{"orient":"bottom","title":"rₚ [Mpc/h]","titlePadding":1,"values":[0,2,4,6,8,10,12,14,16,18,20,22,24,26,28,30],"labelExpr":"datum.value%10==0?datum.label:''","tickSize":{"condition":{"test":"datum.value%10==0","value":-12.5},"value":-6.5},"labelPadding":22}},"y":{"field":"pi","type":"quantitative","scale":{"domain":[0,30],"nice":false,"zero":false},"axis":{"orient":"left","title":"π [Mpc/h]","titleX":-50,"titleY":97,"titleBaseline":"middle","values":[0,2,4,6,8,10,12,14,16,18,20,22,24,26,28,30],"labelExpr":"datum.value%10==0?datum.label:''","tickSize":{"condition":{"test":"datum.value%10==0","value":-12.5},"value":-6.5},"labelPadding":22}},"fill":{"field":"band","type":"nominal","legend":null,"scale":{"domain":["b1","b2","b3","b4","b5","b6","b7","b8","b9","b10","b11","hole"],"range":["#0030ff","#0048ff","#0068ff","#0090ff","#00c0ff","#00f0f0","#10e8a0","#18e860","#30ff30","#60a060","#808080","#ffffff"]}},"detail":{"field":"poly"},"order":{"value":null}}},
{"data":{"name":"contours"},"transform":[{"filter":"datum.panel==1"}],"mark":{"type":"line","color":"#000","strokeWidth":3,"clip":true},"encoding":{"x":{"field":"rp","type":"quantitative","axis":{"orient":"top","title":null,"labels":false,"values":[0,2,4,6,8,10,12,14,16,18,20,22,24,26,28,30],"tickSize":{"condition":{"test":"datum.value%10==0","value":-12.5},"value":-6.5}}},"y":{"field":"pi","type":"quantitative","axis":{"orient":"right","title":null,"labels":false,"values":[0,2,4,6,8,10,12,14,16,18,20,22,24,26,28,30],"tickSize":{"condition":{"test":"datum.value%10==0","value":-12.5},"value":-6.5}}},"detail":{"field":"seg"},"order":{"value":null}}}
]},
{"title":{"text":"z=[0.5−0.8]","offset":3},"width":192,"height":192,"resolve":{"axis":{"x":"independent","y":"independent"}},"layer":[
{"data":{"name":"shapes"},"transform":[{"filter":"datum.panel==2"}],"mark":{"type":"line","interpolate":"cardinal-closed","tension":0.3,"strokeWidth":0,"clip":true},"encoding":{"x":{"field":"rp","type":"quantitative","scale":{"domain":[0,30],"nice":false,"zero":false},"axis":{"orient":"bottom","title":"rₚ [Mpc/h]","titlePadding":1,"values":[0,2,4,6,8,10,12,14,16,18,20,22,24,26,28,30],"labelExpr":"datum.value%10==0?datum.label:''","tickSize":{"condition":{"test":"datum.value%10==0","value":-12.5},"value":-6.5},"labelPadding":22}},"y":{"field":"pi","type":"quantitative","scale":{"domain":[0,30],"nice":false,"zero":false},"axis":{"orient":"left","title":null,"labels":false,"values":[0,2,4,6,8,10,12,14,16,18,20,22,24,26,28,30],"tickSize":{"condition":{"test":"datum.value%10==0","value":-12.5},"value":-6.5}}},"fill":{"field":"band","type":"nominal","legend":null,"scale":{"domain":["b1","b2","b3","b4","b5","b6","b7","b8","b9","b10","b11","hole"],"range":["#0030ff","#0048ff","#0068ff","#0090ff","#00c0ff","#00f0f0","#10e8a0","#18e860","#30ff30","#60a060","#808080","#ffffff"]}},"detail":{"field":"poly"},"order":{"value":null}}},
{"data":{"name":"contours"},"transform":[{"filter":"datum.panel==2"}],"mark":{"type":"line","color":"#000","strokeWidth":3,"clip":true},"encoding":{"x":{"field":"rp","type":"quantitative","axis":{"orient":"top","title":null,"labels":false,"values":[0,2,4,6,8,10,12,14,16,18,20,22,24,26,28,30],"tickSize":{"condition":{"test":"datum.value%10==0","value":-12.5},"value":-6.5}}},"y":{"field":"pi","type":"quantitative","axis":{"orient":"right","title":null,"labels":false,"values":[0,2,4,6,8,10,12,14,16,18,20,22,24,26,28,30],"tickSize":{"condition":{"test":"datum.value%10==0","value":-12.5},"value":-6.5}}},"detail":{"field":"seg"},"order":{"value":null}}}
]},
{"title":{"text":"z=[0.8−1.0]","offset":3},"width":192,"height":192,"resolve":{"axis":{"x":"independent","y":"independent"}},"layer":[
{"data":{"name":"shapes"},"transform":[{"filter":"datum.panel==3"}],"mark":{"type":"line","interpolate":"cardinal-closed","tension":0.3,"strokeWidth":0,"clip":true},"encoding":{"x":{"field":"rp","type":"quantitative","scale":{"domain":[0,30],"nice":false,"zero":false},"axis":{"orient":"bottom","title":"rₚ [Mpc/h]","titlePadding":1,"values":[0,2,4,6,8,10,12,14,16,18,20,22,24,26,28,30],"labelExpr":"datum.value%10==0?datum.label:''","tickSize":{"condition":{"test":"datum.value%10==0","value":-12.5},"value":-6.5},"labelPadding":22}},"y":{"field":"pi","type":"quantitative","scale":{"domain":[0,30],"nice":false,"zero":false},"axis":{"orient":"left","title":null,"labels":false,"values":[0,2,4,6,8,10,12,14,16,18,20,22,24,26,28,30],"tickSize":{"condition":{"test":"datum.value%10==0","value":-12.5},"value":-6.5}}},"fill":{"field":"band","type":"nominal","legend":null,"scale":{"domain":["b1","b2","b3","b4","b5","b6","b7","b8","b9","b10","b11","hole"],"range":["#0030ff","#0048ff","#0068ff","#0090ff","#00c0ff","#00f0f0","#10e8a0","#18e860","#30ff30","#60a060","#808080","#ffffff"]}},"detail":{"field":"poly"},"order":{"value":null}}},
{"data":{"name":"contours"},"transform":[{"filter":"datum.panel==3"}],"mark":{"type":"line","color":"#000","strokeWidth":3,"clip":true},"encoding":{"x":{"field":"rp","type":"quantitative","axis":{"orient":"top","title":null,"labels":false,"values":[0,2,4,6,8,10,12,14,16,18,20,22,24,26,28,30],"tickSize":{"condition":{"test":"datum.value%10==0","value":-12.5},"value":-6.5}}},"y":{"field":"pi","type":"quantitative","axis":{"orient":"right","title":null,"labels":false,"values":[0,2,4,6,8,10,12,14,16,18,20,22,24,26,28,30],"tickSize":{"condition":{"test":"datum.value%10==0","value":-12.5},"value":-6.5}}},"detail":{"field":"seg"},"order":{"value":null}}}
]},
{"width":13,"height":192,"view":{"stroke":"#000","strokeWidth":1.5},"layer":[
{"data":{"name":"bar"},"mark":{"type":"rect"},"encoding":{"y":{"field":"low","type":"quantitative","scale":{"type":"log","domain":[0.413,10],"nice":false},"axis":{"orient":"right","values":[1,10],"format":"d","ticks":false,"domain":false,"labelPadding":11,"title":"ξ(rₚ,π)","titleFontSize":18,"titleX":27,"titleY":96,"titleAngle":270,"titleBaseline":"middle","titleAlign":"center"}},"y2":{"field":"high"},"fill":{"field":"band","type":"nominal","legend":null,"scale":{"domain":["b1","b2","b3","b4","b5","b6","g6","g5","g4","g3","g2","g1","b9","c5","c4","c3","c2","c1"],"range":["#0020ff","#0050ff","#0090ff","#00c0ff","#00e8ff","#00ffff","#00e8c0","#00e8a0","#08e880","#10e868","#18f050","#20f040","#30ff30","#60a060","#888888","#707070","#606060","#505050"]}}}},
{"data":{"name":"edges"},"mark":{"type":"rule","color":"#000","strokeWidth":1},"encoding":{"y":{"field":"v","type":"quantitative"}}}
]}
]}
